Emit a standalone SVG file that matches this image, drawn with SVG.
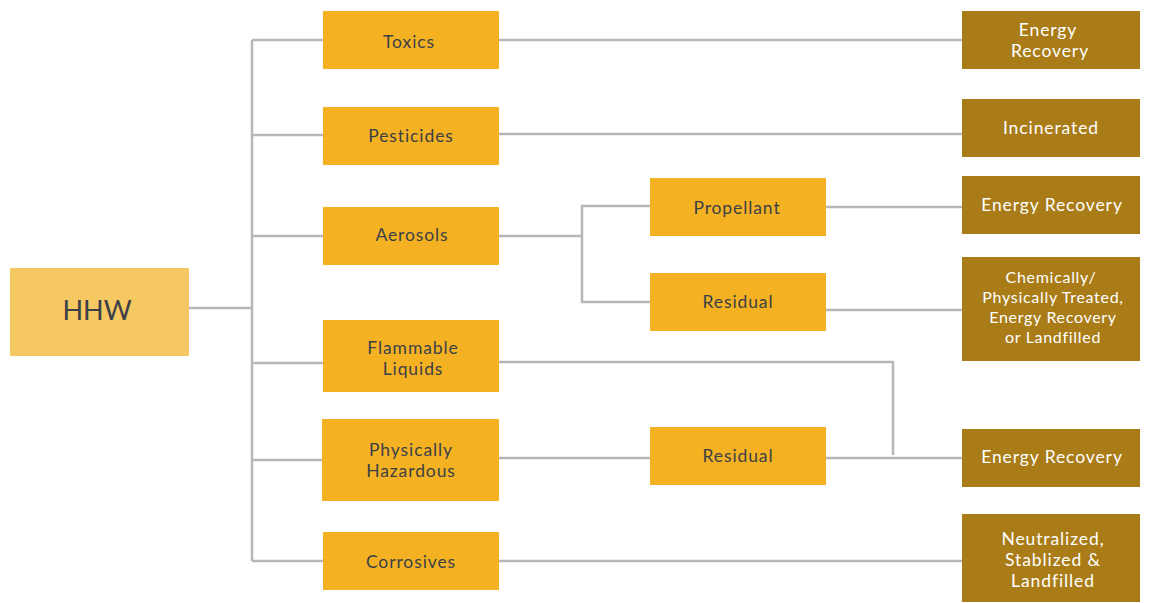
<svg xmlns="http://www.w3.org/2000/svg" width="1154" height="603" viewBox="0 0 1154 603">
<style>
.c{fill:none;stroke:#b7b7b7;stroke-width:2.5}
.m{fill:#f4b223}
.r{fill:#a97c17}
.t{font-family:Lato,"Open Sans",sans-serif;font-size:17.5px;letter-spacing:0.9px;fill:#3b3f46;text-anchor:middle}
.w{font-family:Lato,"Open Sans",sans-serif;font-size:17.5px;letter-spacing:0.9px;fill:#ffffff;text-anchor:middle}
.s{font-size:16px;letter-spacing:0.7px}
</style>
<rect width="1154" height="603" fill="#ffffff"/>
<g id="connectors">
<path class="c" d="M189 308H252M252 40V561M252 40H323M252 135H323M252 236H323M252 363H323M252 460H322M252 561H323"/>
<path class="c" d="M499 40H962M499 134H962M499 236H582M650 206H582V302H650M826 207H962M826 310H962"/>
<path class="c" d="M499 362H893V455M499 458H650M826 458H962M499 561H962"/>
</g>
<g id="hhw"><rect x="10" y="268" width="179" height="88" fill="#f5c862"/><text class="t" x="97" y="320" style="font-size:27px;letter-spacing:0">HHW</text></g>
<g id="toxics"><rect class="m" x="323" y="11" width="176" height="58"/><text class="t" x="409" y="48">Toxics</text></g>
<g id="pesticides"><rect class="m" x="323" y="107" width="176" height="58"/><text class="t" x="411" y="142">Pesticides</text></g>
<g id="aerosols"><rect class="m" x="323" y="207" width="176" height="58"/><text class="t" x="412" y="241">Aerosols</text></g>
<g id="flammable"><rect class="m" x="323" y="320" width="176" height="72"/><text class="t" x="413" y="354">Flammable</text><text class="t" x="413" y="375">Liquids</text></g>
<g id="physically"><rect class="m" x="322" y="419" width="177" height="82"/><text class="t" x="411" y="456">Physically</text><text class="t" x="411" y="477">Hazardous</text></g>
<g id="corrosives"><rect class="m" x="323" y="532" width="176" height="58"/><text class="t" x="411" y="568">Corrosives</text></g>
<g id="propellant"><rect class="m" x="650" y="178" width="176" height="58"/><text class="t" x="737" y="214">Propellant</text></g>
<g id="residual1"><rect class="m" x="650" y="273" width="176" height="58"/><text class="t" x="738" y="308">Residual</text></g>
<g id="residual2"><rect class="m" x="650" y="427" width="176" height="58"/><text class="t" x="738" y="462">Residual</text></g>
<g id="er1"><rect class="r" x="962" y="11" width="178" height="58"/><text class="w" x="1048" y="36">Energy</text><text class="w" x="1050" y="57">Recovery</text></g>
<g id="incinerated"><rect class="r" x="962" y="99" width="178" height="58"/><text class="w" x="1051" y="134">Incinerated</text></g>
<g id="er2"><rect class="r" x="962" y="176" width="178" height="58"/><text class="w" x="1052" y="211">Energy Recovery</text></g>
<g id="chem"><rect class="r" x="962" y="257" width="178" height="104"/><text class="w s" x="1051" y="283">Chemically/</text><text class="w s" x="1053" y="303">Physically Treated,</text><text class="w s" x="1053" y="323">Energy Recovery</text><text class="w s" x="1053" y="343">or Landfilled</text></g>
<g id="er3"><rect class="r" x="962" y="429" width="178" height="58"/><text class="w" x="1052" y="463">Energy Recovery</text></g>
<g id="neutralized"><rect class="r" x="962" y="514" width="178" height="88"/><text class="w" x="1053" y="545">Neutralized,</text><text class="w" x="1053" y="566">Stablized &amp;</text><text class="w" x="1053" y="587">Landfilled</text></g>
</svg>
